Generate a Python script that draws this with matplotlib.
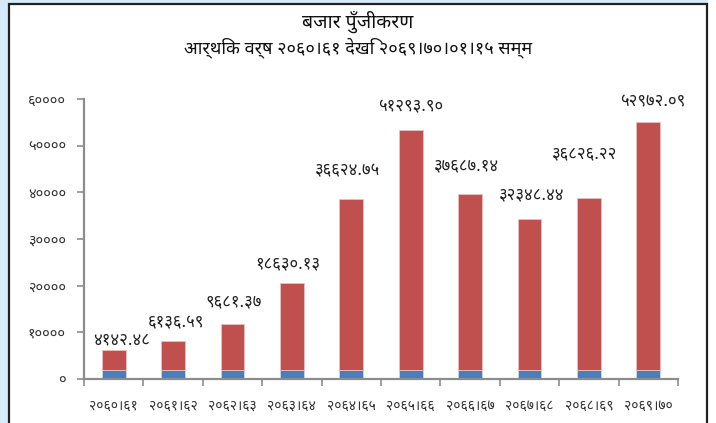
import matplotlib
matplotlib.use("Agg")
import matplotlib.pyplot as plt
from matplotlib import font_manager as fm
from matplotlib.patches import Rectangle
from matplotlib.ticker import FixedLocator

# ---------------- data ----------------
categories = ["२०६०।६१", "२०६१।६२", "२०६२।६३", "२०६३।६४", "२०६४।६५",
              "२०६५।६६", "२०६६।६७", "२०६७।६८", "२०६८।६९", "२०६९।७०"]
base_values = [2000, 2000, 2000, 2000, 2000, 2000, 2000, 2000, 2000, 2000]
cap_values = [4142.48, 6136.59, 9681.37, 18630.13, 36624.75,
              51293.90, 37687.14, 32348.44, 36826.22, 52972.09]
value_labels = ["४१४२.४८", "६१३६.५९", "९६८१.३७", "१८६३०.१३", "३६६२४.७५",
                "५१२९३.९०", "३७६८७.१४", "३२३४८.४४", "३६८२६.२२", "५२९७२.०९"]
yticks = [0, 10000, 20000, 30000, 40000, 50000, 60000]
ytick_labels = ["०", "१००००", "२००००", "३००००", "४००००", "५००००", "६००००"]
title_lines = ["बजार पुँजीकरण", "आर्थिक वर्ष २०६०।६१ देखि २०६९।७०।०१।१५ सम्म"]

# label offsets (pixels) – layout only
label_dx = [8, 3, 1, -4, -4, 0, -4, 2, -4, 4]
label_dy = [10, 18, 21, 18, 28, 23, 27, 23, 43, 20]

# ---------------- font selection ----------------
available = {f.name for f in fm.fontManager.ttflist}
def pick(cands):
    for c in cands:
        if c in available:
            return c
    return None

deva = pick(["Noto Sans Devanagari", "Hind", "Mukta", "Ek Mukta", "Poppins", "Biryani"])
families = [deva, "DejaVu Sans"] if deva else ["DejaVu Sans"]
plt.rcParams["font.family"] = families

# ---------------- figure ----------------
W, H = 716, 423
fig = plt.figure(figsize=(W / 100, H / 100), dpi=100)
fig.patch.set_facecolor("white")

blue_bg = "#d6eaf8"
fig.patches.append(Rectangle((0, 0), 8 / W, 1, transform=fig.transFigure,
                             facecolor=blue_bg, edgecolor="none", zorder=0))
fig.patches.append(Rectangle((0, (H - 3) / H), 708 / W, 3 / H, transform=fig.transFigure,
                             facecolor=blue_bg, edgecolor="none", zorder=0))
fig.patches.append(Rectangle((9 / W, -0.05), (707 - 9) / W, (H - 4) / H + 0.05,
                             transform=fig.transFigure, facecolor="none",
                             edgecolor="#222222", linewidth=1.6, zorder=1))

ax = fig.add_axes([84 / W, (H - 379) / H, (678 - 84) / W, (379 - 99) / H])
ax.set_facecolor("none")

x = list(range(len(categories)))
ax.bar(x, base_values, width=0.4, color="#4a7ebb", edgecolor="#c9d8ee", linewidth=0.6, zorder=2)
ax.bar(x, cap_values, width=0.4, bottom=base_values, color="#c0504d",
       edgecolor="#e8c2c1", linewidth=0.6, zorder=2)

for i, (b, v, lab) in enumerate(zip(base_values, cap_values, value_labels)):
    ax.annotate(lab, xy=(i, b + v), xytext=(label_dx[i], label_dy[i]),
                textcoords="offset pixels", ha="center", va="center",
                fontsize=12, color="#222222", family=families)

ax.set_xlim(-0.5, len(categories) - 0.5)
ax.set_ylim(0, 60000)

for s in ["top", "right"]:
    ax.spines[s].set_visible(False)
for s in ["left", "bottom"]:
    ax.spines[s].set_color("#8c8c8c")
    ax.spines[s].set_linewidth(1.6)

ax.set_yticks(yticks)
ax.set_yticklabels(ytick_labels, family=families)
ax.tick_params(axis="y", length=5, width=1.2, color="#8c8c8c", pad=8,
               labelsize=10.5, labelcolor="#333333")

ax.set_xticks(x)
ax.set_xticklabels(categories, family=families)
ax.tick_params(axis="x", which="major", length=0, pad=14, labelsize=10,
               labelcolor="#333333")
ax.xaxis.set_minor_locator(FixedLocator([i - 0.5 for i in range(len(categories) + 1)]))
ax.tick_params(axis="x", which="minor", length=5, width=1.2, color="#8c8c8c")

fig.text(358 / W, (H - 22) / H, title_lines[0], ha="center", va="center",
         fontsize=14, color="#111111", family=families)
fig.text(358 / W, (H - 48) / H, title_lines[1], ha="center", va="center",
         fontsize=13, color="#111111", family=families)

fig.savefig("out.png", dpi=100, facecolor=fig.get_facecolor())
